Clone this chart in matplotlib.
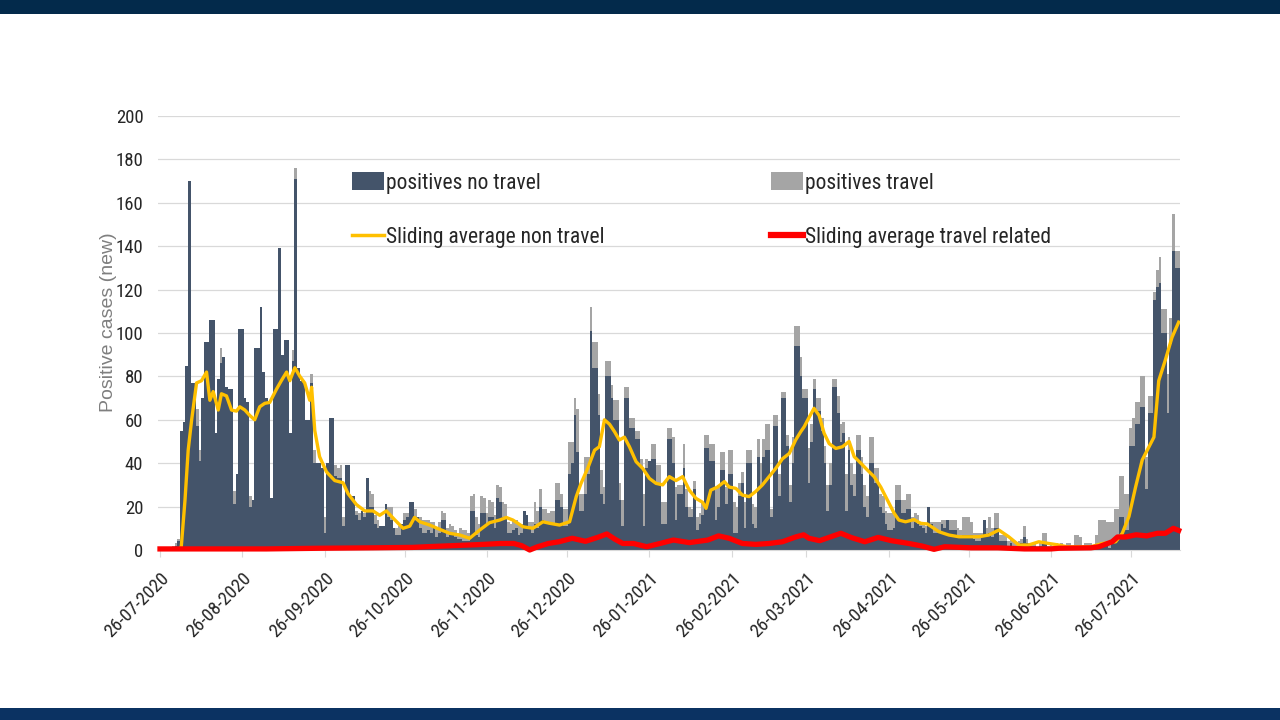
import numpy as np
import pandas as pd
import matplotlib
matplotlib.use('Agg')
import matplotlib.pyplot as plt
from matplotlib.patches import Rectangle, Patch
from matplotlib.lines import Line2D

# daily counts, first day is 26-07-2020
start_date = '26-07-2020'

no_travel = [
    0, 0, 0, 0, 0, 1, 2, 4, 55, 59,
    85, 170, 77, 77, 57, 41, 70, 96, 96, 106,
    106, 54, 79, 86, 89, 75, 74, 74, 21, 35,
    102, 102, 70, 68, 20, 23, 93, 93, 112, 82,
    70, 68, 24, 102, 102, 139, 90, 97, 97, 54,
    87, 171, 84, 78, 78, 60, 60, 77, 40, 40,
    40, 38, 8, 40, 61, 61, 34, 33, 33, 11,
    39, 39, 25, 25, 16, 14, 18, 15, 33, 20,
    20, 12, 10, 11, 11, 21, 15, 14, 10, 7,
    7, 12, 14, 15, 22, 22, 15, 15, 10, 8,
    8, 9, 8, 10, 6, 8, 14, 14, 6, 7,
    7, 6, 5, 5, 4, 4, 4, 18, 18, 7,
    6, 17, 17, 12, 15, 15, 10, 24, 22, 15,
    15, 8, 8, 9, 10, 7, 8, 18, 16, 10,
    8, 12, 10, 20, 14, 13, 12, 12, 12, 23,
    23, 20, 11, 11, 35, 40, 62, 45, 18, 18,
    26, 35, 101, 84, 84, 62, 26, 21, 80, 80,
    70, 60, 60, 23, 11, 70, 70, 56, 56, 51,
    51, 38, 11, 38, 41, 42, 42, 30, 30, 12,
    12, 51, 51, 40, 14, 26, 26, 38, 20, 15,
    15, 28, 9, 12, 16, 47, 47, 41, 41, 14,
    20, 37, 37, 21, 35, 35, 8, 8, 25, 31,
    10, 40, 40, 12, 10, 43, 30, 43, 46, 46,
    15, 57, 57, 25, 70, 70, 48, 22, 40, 94,
    94, 80, 70, 70, 31, 50, 74, 64, 64, 55,
    40, 18, 30, 75, 75, 63, 50, 54, 18, 46,
    30, 25, 46, 46, 35, 20, 15, 40, 40, 31,
    31, 20, 17, 12, 9, 9, 10, 23, 23, 17,
    17, 19, 19, 10, 13, 12, 11, 10, 8, 20,
    12, 8, 8, 8, 12, 10, 14, 9, 9, 9,
    6, 6, 7, 7, 7, 7, 5, 4, 4, 6,
    14, 7, 8, 6, 10, 10, 4, 4, 4, 2,
    3, 2, 2, 2, 3, 6, 3, 2, 2, 2,
    1, 2, 3, 3, 1, 1, 1, 2, 1, 2,
    1, 1, 2, 1, 2, 2, 2, 1, 2, 1,
    2, 1, 2, 2, 2, 2, 2, 1, 3, 3,
    5, 15, 15, 9, 9, 48, 48, 58, 58, 66,
    66, 28, 63, 63, 115, 121, 123, 100, 100, 63,
    95, 138, 130, 130,
]

travel = [
    0, 0, 0, 0, 1, 1, 1, 1, 0, 0,
    0, 0, 0, 0, 8, 5, 0, 0, 0, 0,
    0, 0, 0, 7, 0, 0, 0, 0, 6, 0,
    0, 0, 0, 0, 5, 0, 0, 0, 0, 0,
    0, 0, 0, 0, 0, 0, 0, 0, 0, 0,
    5, 5, 0, 0, 0, 0, 0, 4, 6, 0,
    0, 0, 7, 0, 0, 0, 5, 5, 6, 4,
    0, 0, 0, 0, 2, 3, 0, 2, 0, 7,
    6, 4, 4, 0, 0, 0, 5, 6, 0, 3,
    4, 0, 3, 2, 0, 0, 4, 0, 5, 6,
    6, 5, 5, 3, 4, 5, 4, 3, 4, 5,
    4, 3, 3, 5, 5, 5, 4, 7, 8, 8,
    6, 8, 7, 5, 8, 7, 6, 6, 7, 7,
    6, 5, 4, 5, 4, 5, 4, 0, 0, 3,
    5, 10, 8, 8, 5, 6, 5, 6, 6, 8,
    8, 6, 8, 8, 15, 10, 8, 20, 8, 8,
    17, 8, 11, 12, 12, 10, 11, 8, 7, 7,
    6, 9, 9, 8, 12, 5, 5, 5, 5, 4,
    4, 4, 15, 4, 0, 7, 7, 9, 9, 10,
    10, 5, 5, 12, 15, 4, 4, 11, 8, 5,
    4, 4, 6, 5, 6, 6, 6, 8, 8, 15,
    10, 8, 8, 8, 11, 11, 14, 12, 6, 5,
    12, 6, 6, 9, 10, 8, 10, 8, 12, 12,
    4, 5, 5, 10, 3, 3, 5, 8, 12, 9,
    9, 9, 4, 4, 16, 8, 5, 6, 6, 6,
    8, 12, 10, 4, 4, 8, 8, 5, 17, 6,
    10, 10, 7, 7, 8, 10, 10, 12, 12, 7,
    7, 6, 8, 6, 8, 8, 6, 7, 7, 6,
    6, 7, 7, 5, 4, 4, 2, 3, 3, 0,
    1, 5, 5, 5, 2, 4, 0, 5, 5, 5,
    4, 3, 8, 8, 8, 6, 3, 4, 4, 2,
    0, 3, 7, 4, 7, 7, 3, 3, 3, 2,
    2, 2, 1, 2, 2, 5, 2, 1, 1, 1,
    1, 1, 5, 5, 1, 2, 1, 1, 1, 1,
    1, 2, 1, 1, 5, 5, 4, 1, 1, 2,
    1, 1, 5, 12, 12, 12, 11, 12, 10, 16,
    14, 19, 19, 17, 17, 8, 13, 10, 10, 14,
    14, 15, 8, 8, 4, 8, 12, 11, 11, 18,
    12, 17, 8, 8,
]

# sliding averages (day number, value)
avg_nt_day = [7, 8, 9.4, 10.6, 11.9, 13.75, 15.6, 17.5, 18.75, 20, 21.9, 23.1, 25, 26.9,
              28.75, 30, 31.9, 33.75, 35.6, 37.5, 39.4, 41.25, 43.75, 45.6, 47.6, 48.8,
              50.7, 52.6, 54.4, 56.3, 57, 58.2, 60, 62.6, 65.7, 68.8, 70.7, 73.8, 77, 80.1,
              82.6, 85.1, 88.2, 91.4, 93.9, 95.7, 97.7, 101.4, 105.2, 108.9, 112.7, 116.4,
              120.2, 123.9, 127.7, 130.2, 132.7, 136.5, 140.2, 144, 146.5, 150.2, 154, 156.5,
              158.3, 160.8, 163.4, 165.2, 167.1, 169, 170.9, 172.7, 174.6, 176.5, 179, 181.5,
              184, 186.5, 189, 191.5, 194, 196.5, 199, 201.5, 204, 205.3, 207.1, 209.6, 212.2,
              214, 216.5, 219, 221.5, 224, 226.5, 229, 231.5, 234, 236.6, 239, 240.9, 242.2,
              244, 245.9, 247.8, 249.7, 251.6, 254.1, 256.6, 259.1, 261, 263.5, 266, 268.5,
              271, 273.5, 276, 277.8, 280.3, 283.5, 286, 288.5, 292.9, 296.6, 300.4, 304.1,
              307.9, 311.6, 315.4, 319.1, 322.9, 326.6, 330.4, 334.2, 337.9, 341, 350, 354.3,
              359.3, 361.8, 364.3, 366.8, 369.3, 371.2, 373.7, 375.5, 378, 380.5, 383]
avg_nt = [0, 1.5, 23, 46, 60, 77, 78, 82, 69, 73, 64.5, 72, 71, 64.5,
          64, 66, 64.5, 62, 60, 66, 67.6, 68, 74, 78, 82, 78,
          84, 80, 77, 69, 75, 55, 43, 36, 32, 31, 26, 21, 18, 18,
          16, 18, 14, 10, 11, 15, 13, 11.5, 9.5, 7.7, 6.9, 5.4,
          9.2, 12.6, 13.8, 15, 13.8, 10.7, 10, 13, 12.3, 11.5, 13, 24.6,
          30.7, 37.6, 46, 47.6, 60, 58, 54.5, 50.7, 52, 47.6, 40.7, 37.6,
          33, 30.7, 30, 33.8, 32, 33.8, 27.6, 23.8, 22, 19.2, 27.6, 29, 31.5,
          29, 28.4, 25.3, 24.6, 27, 30, 33.8, 37.6, 42, 44.5, 50.7, 54.5, 56.8,
          61, 65.3, 62, 53.8, 49, 46.8, 47.6, 50, 43, 40, 36.8, 33.8,
          29, 23, 17, 13.8, 13, 14, 12.3, 12, 8.4, 6.9, 6.1, 6.1,
          6.1, 6.9, 9.2, 6.1, 2.3, 2.3, 3.8, 3, 2.3, 1.5, 1.5, 3,
          3.8, 7.7, 15.4, 29, 41.5, 46, 52, 78, 87.6, 98, 105]

avg_t_day = [0, 40, 60, 80, 95, 100, 110, 120, 128, 133, 136, 139, 142, 146, 150, 155,
             160, 165, 168, 171, 174, 178, 183, 188, 193, 199, 206, 210, 214, 219, 224,
             229, 234, 239, 242, 244, 248, 252, 256, 260, 265, 270, 275, 281.6, 286.6,
             291, 295, 305, 315, 325, 335, 338, 350, 353, 358, 360, 363, 367, 371, 375,
             378, 381, 383]
avg_t = [0.5, 0.5, 0.8, 1, 1.2, 1.5, 2, 2.5, 3, 3, 2, 0, 1.5, 3, 3.8, 5.4,
         4, 6, 7.4, 5, 3, 3, 1.5, 3, 4.6, 3.4, 4.6, 6.5, 5.4, 3, 2.6,
         3, 3.8, 6, 7, 5.4, 4.3, 6, 7.7, 5.7, 3.8, 5.8, 4.3, 3, 1.8,
         0.3, 1.5, 1, 1, 0.5, 0.5, 0.8, 1, 1.5, 3.8, 6, 6, 7, 6.5, 7.7,
         7.7, 10, 9]

tick_labels = ['26-07-2020', '26-08-2020', '26-09-2020', '26-10-2020', '26-11-2020',
               '26-12-2020', '26-01-2021', '26-02-2021', '26-03-2021', '26-04-2021',
               '26-05-2021', '26-06-2021', '26-07-2021']

legend_labels = ['positives no travel', 'Sliding average non travel',
                 'positives travel', 'Sliding average travel related']

assert len(no_travel) == len(travel)
assert len(avg_nt_day) == len(avg_nt)
assert len(avg_t_day) == len(avg_t)

NAVY = '#44546a'
GREY = '#a5a5a5'
YELLOW = '#ffc000'
RED = '#ff0000'
NARROW = ['Liberation Sans Narrow', 'Roboto Condensed', 'Roboto', 'DejaVu Sans']
LEG_SIZE = 15.5
TICK_SIZE = 13.5

days = np.arange(len(no_travel))
start = pd.to_datetime(start_date, format='%d-%m-%Y')
tick_pos = (pd.to_datetime(tick_labels, format='%d-%m-%Y') - start).days

fig = plt.figure(figsize=(12.8, 7.2), dpi=100)
# slide bands top and bottom
fig.add_artist(Rectangle((0, 1 - 14 / 720), 1, 14 / 720, transform=fig.transFigure,
                         facecolor='#032a4b', edgecolor='none'))
fig.add_artist(Rectangle((0, 0), 1, 12 / 720, transform=fig.transFigure,
                         facecolor='#0b3262', edgecolor='none'))

ax = fig.add_axes([158 / 1280, 170 / 720, 1022 / 1280, 434 / 720])

ax.bar(days, no_travel, width=1.0, color=NAVY, linewidth=0, zorder=2)
ax.bar(days, travel, width=1.0, bottom=no_travel, color=GREY, linewidth=0, zorder=2)
ax.plot(avg_nt_day, avg_nt, color=YELLOW, lw=2.4, zorder=3)
ax.plot(avg_t_day, avg_t, color=RED, lw=3.8, zorder=4, clip_on=False)

ax.set_xlim(-0.75, 383.5)
ax.set_ylim(0, 200)
ax.set_yticks(range(0, 201, 20))
ax.grid(axis='y', color='#d9d9d9', lw=0.9)
ax.set_axisbelow(True)
for s in ['top', 'right', 'left']:
    ax.spines[s].set_visible(False)
ax.spines['bottom'].set_color('#d9d9d9')

ax.tick_params(axis='y', length=0, pad=10.5, labelsize=TICK_SIZE, labelcolor='#262626')
for lbl in ax.get_yticklabels():
    lbl.set_family(NARROW)
ax.set_xticks(tick_pos)
ax.set_xticklabels(tick_labels, rotation=45, ha='right', rotation_mode='anchor',
                   fontsize=TICK_SIZE, color='#262626', family=NARROW)
ax.tick_params(axis='x', length=5, color='#d9d9d9', pad=9)

ax.set_ylabel('Positive cases (new)', fontsize=14, color='#7f7f7f',
              family=['Liberation Sans', 'DejaVu Sans'])
ax.yaxis.set_label_coords(-0.040, 0.525)

handles = [Patch(facecolor=NAVY), Line2D([], [], color=YELLOW, lw=2.5),
           Patch(facecolor=GREY), Line2D([], [], color=RED, lw=4.5)]
fs_px = LEG_SIZE * fig.dpi / 72


def make_legend(colspace):
    lg = ax.legend(handles, legend_labels, ncol=2, loc='upper left',
                   bbox_to_anchor=(352 / 1280, 1 - 172 / 720), bbox_transform=fig.transFigure,
                   frameon=False, borderpad=0, borderaxespad=0, handlelength=32 / fs_px,
                   handleheight=20 / fs_px, handletextpad=0.1, columnspacing=colspace,
                   labelspacing=1.53, prop={'family': NARROW, 'size': LEG_SIZE})
    for t in lg.get_texts():
        t.set_color('#262626')
    return lg


# second column of the legend starts at x=771 px, work out the spacing for that
leg = make_legend(5)
fig.canvas.draw()
rend = fig.canvas.get_renderer()
col1 = max(t.get_window_extent(rend).width for t in leg.get_texts()[:2])
col1 += 32 + 0.1 * fs_px
leg.remove()
leg = make_legend((771 - 352 - col1) / fs_px)

fig.savefig('out.png', dpi=100)
